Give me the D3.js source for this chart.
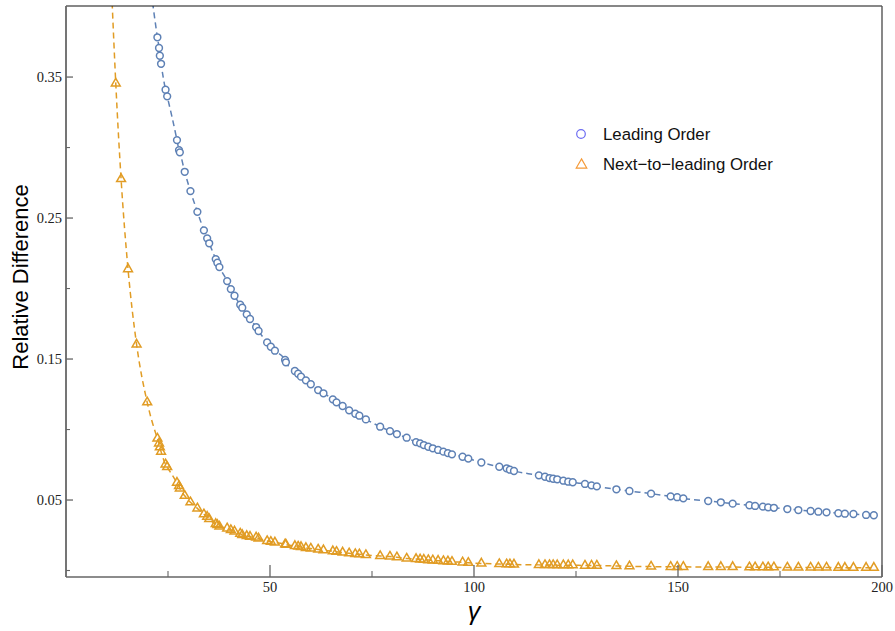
<!DOCTYPE html>
<html>
<head>
<meta charset="utf-8">
<script src="https://cdn.jsdelivr.net/npm/d3@7"></script>
<style>
  html, body { margin: 0; padding: 0; background: #fff; }
  svg { display: block; }
  .tick-label { font-family: "Liberation Serif", "Times New Roman", serif; font-size: 14.5px; fill: #222; }
</style>
</head>
<body>
<svg id="chart" width="895" height="631"></svg>
<script>
// shared gamma samples (both series computed on the same set)
const gamma = [
  22.4, 22.8, 23.0, 23.3, 24.4, 24.8, 27.2, 27.7, 27.9, 29.1,
  30.5, 32.2, 33.8, 34.6, 35.1, 36.7, 37.1, 37.6, 39.5, 40.4,
  41.3, 42.7, 43.2, 44.3, 45.1, 46.6, 47.2, 49.3, 50.2, 51.2,
  53.7, 53.9, 56.1, 56.9, 57.6, 58.8, 60.0, 61.8, 63.1, 65.4,
  66.3, 67.8, 69.4, 70.9, 71.9, 73.5, 77.0, 79.4, 81.1, 83.5,
  85.8, 86.8, 87.7, 88.8, 89.9, 91.2, 92.5, 93.6, 94.6, 97.2,
  98.6, 101.8, 106.2, 108.0, 108.8, 109.8, 115.9, 117.4, 118.5, 119.4,
  120.4, 121.9, 123.1, 124.2, 127.2, 128.8, 130.1, 134.9, 138.1, 143.4,
  148.2, 149.8, 151.3, 157.4, 160.5, 163.4, 167.5, 168.9, 170.8, 172.1,
  173.5, 176.8, 179.5, 182.5, 184.4, 186.4, 189.3, 190.9, 193.0, 196.1,
  198.0
];

const leadingOrder = [
  0.3782, 0.3706, 0.3651, 0.3594, 0.3410, 0.3363, 0.3053, 0.2982, 0.2966, 0.2828,
  0.2691, 0.2544, 0.2413, 0.2356, 0.2321, 0.2209, 0.2183, 0.2152, 0.2053, 0.1996,
  0.1949, 0.1885, 0.1864, 0.1817, 0.1784, 0.1727, 0.1699, 0.1618, 0.1587, 0.1559,
  0.1493, 0.1477, 0.1415, 0.1396, 0.1375, 0.1349, 0.1321, 0.1280, 0.1257, 0.1214,
  0.1193, 0.1167, 0.1136, 0.1112, 0.1098, 0.1072, 0.1020, 0.0989, 0.0968, 0.0942,
  0.0911, 0.0902, 0.0890, 0.0878, 0.0867, 0.0855, 0.0843, 0.0833, 0.0824, 0.0807,
  0.0794, 0.0766, 0.0736, 0.0725, 0.0715, 0.0706, 0.0675, 0.0665, 0.0656, 0.0651,
  0.0647, 0.0637, 0.0630, 0.0626, 0.0614, 0.0604, 0.0597, 0.0576, 0.0564, 0.0545,
  0.0526, 0.0520, 0.0512, 0.0493, 0.0484, 0.0474, 0.0463, 0.0458, 0.0453, 0.0448,
  0.0445, 0.0436, 0.0429, 0.0422, 0.0417, 0.0413, 0.0406, 0.0403, 0.0401, 0.0394,
  0.0392
];

const nextToLeading = [
  0.0936, 0.0902, 0.0874, 0.0843, 0.0753, 0.0734, 0.0623, 0.0599, 0.0583, 0.0530,
  0.0484, 0.0441, 0.0399, 0.0382, 0.0365, 0.0330, 0.0323, 0.0312, 0.0299, 0.0287,
  0.0277, 0.0262, 0.0252, 0.0245, 0.0240, 0.0235, 0.0228, 0.0209, 0.0204, 0.0199,
  0.0186, 0.0184, 0.0174, 0.0170, 0.0167, 0.0160, 0.0156, 0.0149, 0.0144, 0.0137,
  0.0133, 0.0128, 0.0122, 0.0117, 0.0115, 0.0110, 0.0103, 0.0099, 0.0094, 0.0085,
  0.0082, 0.0079, 0.0077, 0.0074, 0.0072, 0.0070, 0.0067, 0.0065, 0.0062, 0.0058,
  0.0055, 0.0050, 0.0046, 0.0044, 0.0044, 0.0043, 0.0040, 0.0039, 0.0039, 0.0039,
  0.0038, 0.0038, 0.0038, 0.0038, 0.0035, 0.0035, 0.0035, 0.0032, 0.0030, 0.0028,
  0.0026, 0.0026, 0.0026, 0.0025, 0.0025, 0.0025, 0.0023, 0.0023, 0.0023, 0.0023,
  0.0023, 0.0021, 0.0021, 0.0021, 0.0021, 0.0021, 0.0020, 0.0020, 0.0020, 0.0020,
  0.0020
];

// NLO points at small gamma (LO is off the top of the plot there)
const gammaLow = [12.2, 13.5, 15.2, 17.3, 19.9];
const nextToLeadingLow = [0.3455, 0.2777, 0.2138, 0.1604, 0.1193];

// where the dashed curves leave the top of the frame
const loCurveTop = [20.9, 0.41];
const nloCurveTop = [11.2, 0.41];

const xMajor = [50, 100, 150, 200];
const xMinor = [25, 75, 125, 175];
const yMajor = [0.05, 0.15, 0.25, 0.35];
const yMinor = [0.0, 0.10, 0.20, 0.30];

const seriesNames = ['Leading Order', 'Next\u2212to\u2212leading Order'];

const loColor = '#5e81b5';
const nloColor = '#e19c24';

const svg = d3.select('#chart');
const frame = { left: 66, right: 882, top: 6, bottom: 577 };

const x = d3.scaleLinear().domain([0, 200]).range([frame.left, frame.right]);
const y = d3.scaleLinear().domain([-0.0046, 0.4004]).range([frame.bottom, frame.top]);

svg.append('defs').append('clipPath').attr('id', 'plot-clip')
  .append('rect')
  .attr('x', frame.left).attr('y', frame.top)
  .attr('width', frame.right - frame.left).attr('height', frame.bottom - frame.top);

const loPts = gamma.map((g, i) => [g, leadingOrder[i]]);
const nloPts = gammaLow.map((g, i) => [g, nextToLeadingLow[i]])
  .concat(gamma.map((g, i) => [g, nextToLeading[i]]));

const line = d3.line()
  .x((d) => x(d[0]))
  .y((d) => y(d[1]))
  .curve(d3.curveMonotoneX);

const plot = svg.append('g').attr('clip-path', 'url(#plot-clip)');

plot.append('path')
  .datum([loCurveTop].concat(loPts))
  .attr('fill', 'none')
  .attr('stroke', loColor)
  .attr('stroke-width', 1.5)
  .attr('stroke-dasharray', '6,4')
  .attr('d', line);

plot.append('path')
  .datum([nloCurveTop].concat(nloPts))
  .attr('fill', 'none')
  .attr('stroke', nloColor)
  .attr('stroke-width', 1.5)
  .attr('stroke-dasharray', '6,4')
  .attr('d', line);

plot.append('g')
  .selectAll('circle')
  .data(loPts)
  .enter()
  .append('circle')
  .attr('cx', (d) => x(d[0]))
  .attr('cy', (d) => y(d[1]))
  .attr('r', 3.4)
  .attr('fill', '#fff')
  .attr('stroke', loColor)
  .attr('stroke-width', 1.5);

const tri = d3.symbol().type(d3.symbolTriangle).size(34);
plot.append('g')
  .selectAll('path')
  .data(nloPts)
  .enter()
  .append('path')
  .attr('d', tri)
  .attr('transform', (d) => 'translate(' + x(d[0]) + ',' + y(d[1]) + ')')
  .attr('fill', 'none')
  .attr('stroke', nloColor)
  .attr('stroke-width', 1.5);

// frame
svg.append('line')
  .attr('x1', frame.left).attr('x2', frame.right).attr('y1', frame.top).attr('y2', frame.top)
  .attr('stroke', '#111').attr('stroke-width', 1.2);
svg.append('line')
  .attr('x1', frame.right).attr('x2', frame.right).attr('y1', frame.top).attr('y2', frame.bottom)
  .attr('stroke', '#555').attr('stroke-width', 1.4);

// axes with inward ticks
const axisColor = '#666';
const xAxis = svg.append('g');
xAxis.append('line')
  .attr('x1', frame.left).attr('x2', frame.right).attr('y1', frame.bottom).attr('y2', frame.bottom)
  .attr('stroke', axisColor).attr('stroke-width', 1.6);
xAxis.selectAll('line.major')
  .data(xMajor).enter().append('line')
  .attr('class', 'major')
  .attr('x1', (d) => x(d)).attr('x2', (d) => x(d))
  .attr('y1', frame.bottom).attr('y2', frame.bottom - 12)
  .attr('stroke', axisColor).attr('stroke-width', 1.3);
xAxis.selectAll('line.minor')
  .data(xMinor).enter().append('line')
  .attr('class', 'minor')
  .attr('x1', (d) => x(d)).attr('x2', (d) => x(d))
  .attr('y1', frame.bottom).attr('y2', frame.bottom - 6)
  .attr('stroke', axisColor).attr('stroke-width', 1.1);
xAxis.selectAll('text')
  .data(xMajor).enter().append('text')
  .attr('class', 'tick-label')
  .attr('x', (d) => x(d)).attr('y', frame.bottom + 15)
  .attr('text-anchor', 'middle')
  .text((d) => d);

const yAxis = svg.append('g');
yAxis.append('line')
  .attr('x1', frame.left).attr('x2', frame.left).attr('y1', frame.top).attr('y2', frame.bottom)
  .attr('stroke', axisColor).attr('stroke-width', 1.8);
yAxis.selectAll('line.major')
  .data(yMajor).enter().append('line')
  .attr('class', 'major')
  .attr('x1', frame.left).attr('x2', frame.left + 7)
  .attr('y1', (d) => y(d)).attr('y2', (d) => y(d))
  .attr('stroke', axisColor).attr('stroke-width', 1.3);
yAxis.selectAll('line.minor')
  .data(yMinor).enter().append('line')
  .attr('class', 'minor')
  .attr('x1', frame.left).attr('x2', frame.left + 4)
  .attr('y1', (d) => y(d)).attr('y2', (d) => y(d))
  .attr('stroke', axisColor).attr('stroke-width', 1.1);
yAxis.selectAll('text')
  .data(yMajor).enter().append('text')
  .attr('class', 'tick-label')
  .attr('x', frame.left - 4).attr('y', (d) => y(d) + 5)
  .attr('text-anchor', 'end')
  .text((d) => d.toFixed(2));

// axis titles
svg.append('text')
  .attr('x', x(100)).attr('y', 620)
  .attr('text-anchor', 'middle')
  .style('font-family', '"Liberation Sans", Arial, sans-serif')
  .style('font-style', 'italic')
  .style('font-size', '25px')
  .text('\u03b3');

svg.append('text')
  .attr('transform', 'translate(28,277) rotate(-90)')
  .attr('text-anchor', 'middle')
  .style('font-family', '"Liberation Sans", Arial, sans-serif')
  .style('font-size', '22px')
  .text('Relative Difference');

// legend
const legend = svg.append('g');
legend.append('circle')
  .attr('cx', 581).attr('cy', 134)
  .attr('r', 4.3)
  .attr('fill', 'none')
  .attr('stroke', '#6c6cf2')
  .attr('stroke-width', 1.2);
legend.append('path')
  .attr('d', d3.symbol().type(d3.symbolTriangle).size(48))
  .attr('transform', 'translate(581.5,165)')
  .attr('fill', 'none')
  .attr('stroke', '#f59a38')
  .attr('stroke-width', 1.2);
legend.selectAll('text')
  .data(seriesNames).enter().append('text')
  .attr('x', 603)
  .attr('y', (d, i) => 139.5 + i * 30)
  .style('font-family', '"Liberation Sans", Arial, sans-serif')
  .style('font-size', '16.8px')
  .style('fill', '#111')
  .text((d) => d);
</script>
</body>
</html>
